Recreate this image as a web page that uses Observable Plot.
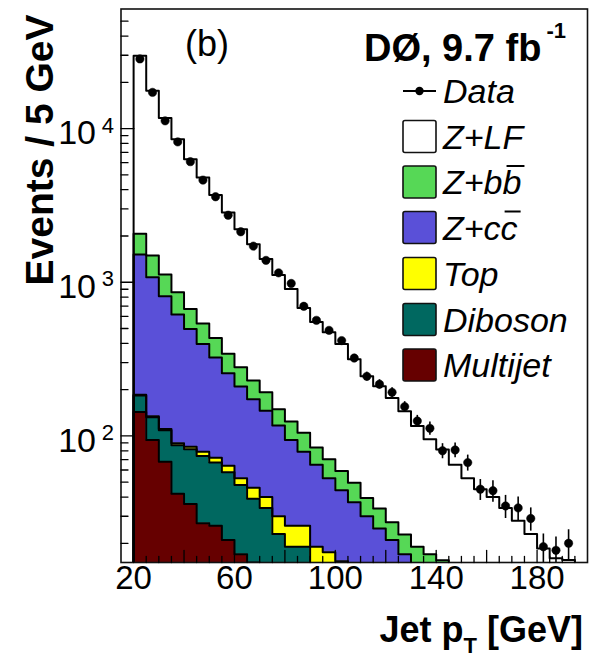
<!DOCTYPE html>
<html><head><meta charset="utf-8">
<script src="https://cdn.jsdelivr.net/npm/d3@7"></script>
<script src="https://cdn.jsdelivr.net/npm/@observablehq/plot@0.6"></script>
<style>
html,body{margin:0;padding:0;background:#fff;}
#chart{width:594px;height:661px;}
</style></head><body><div id="chart"></div>
<script>
// Jet pT bins (low edges, GeV), 5 GeV wide
const binLow = [20,25,30,35,40,45,50,55,60,65,70,75,80,85,90,95,100,105,110,115,120,125,130,135,140,145,150,155,160,165,170,175,180,185,190,195];

// Stacked backgrounds, events / 5 GeV (bottom to top)
const multijet = [143,94,68,42,36,27,26,21,17,15,11,9,7,5,4,3,2,2,1,1,1,0,0,0,0,0,0,0,0,0,0,0,0,0,0,0];
const diboson  = [40,38,41,45,46,47,41,37,31,24,23,14,12,14,8,7,6,5,5,4,3,3,3,2,2,1,1,1,1,0,0,0,0,0,0,0];
const topq     = [2,2,2,2.5,3,5,5,6,5,7,6,7,7,7,7,7.5,7.3,6,5,4,4,4,3,3,2,2,2,1,1,1,1,1,0,0,0,0];
const zcc      = [1332,944,700,526,411,317,252,192,157,127,106,87,68,53,46,35.5,29,24,19,16,13,10,8,7.5,7.5,6,4.5,4,2.5,2.5,2,1,1.5,1.2,1,0];
const zbb      = [548,415,311,245,174,142,110,87,70,56,46,32,30,26,19,17.5,14.7,12.5,9.5,8.7,6.4,5.8,5,4.5,4,3,2.5,2,1.5,1.5,1,1,1,0.8,0.6,0];
const zlf      = [27735,16107,10578,7669,5650,4262,3266,2497,1930,1537,1224,965,779,575,467,403,337,266,205,177,149,122,97,78,66,53,43,37,34,29,24,20,16,14,14,13];

// Data (bins 20-195 GeV) and statistical uncertainties
const dataVals = [28400,17200,11230,8190,6090,4620,3600,2730,2130,1718,1387,1151,982,697,565,486,417,321,244,217,192,155,125,112,80,81,67,45,44,35,34,29,19,18,20];
const dataErr  = [169,131,106,90,78,68,60,52,46,41,37,34,31,26,24,22,20,18,16,15,14,12,11,11,9,9,8,7,7,6,6,5,4,4,4.5];

// Axis ticks
const yMajorTicks = [100, 1000, 10000];
const yMinorTicks = [20,30,40,50,60,70,80,90,200,300,400,500,600,700,800,900,2000,3000,4000,5000,6000,7000,8000,9000,20000,30000,40000,50000];
const xMajorTicks = [20,40,60,80,100,120,140,160,180];
const xMinorTicks = [25,30,35,45,50,55,65,70,75,85,90,95,105,110,115,125,130,135,145,150,155,165,170,175,185,190,195];
const xTickLabels = [20,60,100,140,180];

const names  = ["Multijet","Diboson","Top","Z+cc","Z+bb","Z+LF"];
const colors = ["#660000","#006860","#ffff00","#5a50d8","#56d856","#ffffff"];
const seriesVals = [multijet, diboson, topq, zcc, zbb, zlf];

const FONT = "'Liberation Sans', Arial, Helvetica, sans-serif";
const FLOOR = 1;
const nb = binLow.length;
const binWidth = binLow[1] - binLow[0];
const lastEdge = binLow[nb - 1] + binWidth;

let running = new Array(nb).fill(0);
const layers = seriesVals.map((vals, k) => {
  const lower = running.slice();
  running = running.map((v, i) => v + vals[i]);
  return {name: names[k], color: colors[k], lower, upper: running.slice()};
});

function areaPts(L) {
  const pts = binLow.map((x, i) => ({x, y1: Math.max(L.lower[i], FLOOR), y2: Math.max(L.upper[i], FLOOR)}));
  pts.push({x: lastEdge, y1: pts[nb - 1].y1, y2: pts[nb - 1].y2});
  return pts;
}
function outlinePts(L) {
  const pts = [{x: binLow[0], y: FLOOR}];
  binLow.forEach((x, i) => pts.push({x, y: Math.max(L.upper[i], FLOOR)}));
  pts.push({x: lastEdge, y: Math.max(L.upper[nb - 1], FLOOR)});
  pts.push({x: lastEdge, y: FLOOR});
  return pts;
}
const dataRows = dataVals.map((v, i) => ({x: binLow[i] + binWidth / 2, y: v, lo: v - dataErr[i], hi: v + dataErr[i]}));

const tickShape = {draw(context, l) { context.moveTo(0, 0); context.lineTo(0, -l); }};

const marks = [];
layers.forEach(L => marks.push(Plot.areaY(areaPts(L), {x: "x", y1: "y1", y2: "y2", curve: "step-after", fill: L.color, clip: true})));
layers.slice().reverse().forEach(L => marks.push(Plot.line(outlinePts(L), {x: "x", y: "y", curve: "step-after", stroke: "black", strokeWidth: 2, clip: true})));
marks.push(Plot.ruleX(dataRows, {x: "x", y1: "lo", y2: "hi", stroke: "black", strokeWidth: 1.6, clip: true}));
marks.push(Plot.dot(dataRows, {x: "x", y: "y", r: 4.2, fill: "black", stroke: "black", strokeWidth: 0.5}));
marks.push(Plot.frame({stroke: "#111", strokeWidth: 1.6}));
marks.push(Plot.vector(yMajorTicks, {y: d => d, frameAnchor: "left", rotate: 90, length: 13, anchor: "start", shape: tickShape, stroke: "black", strokeWidth: 1.3}));
marks.push(Plot.vector(yMinorTicks, {y: d => d, frameAnchor: "left", rotate: 90, length: 7, anchor: "start", shape: tickShape, stroke: "black", strokeWidth: 1.3}));
marks.push(Plot.vector(xMajorTicks, {x: d => d, frameAnchor: "bottom", rotate: 0, length: 12, anchor: "start", shape: tickShape, stroke: "black", strokeWidth: 1.3}));
marks.push(Plot.vector(xMinorTicks, {x: d => d, frameAnchor: "bottom", rotate: 0, length: 6, anchor: "start", shape: tickShape, stroke: "black", strokeWidth: 1.3}));
marks.push(Plot.text(yMajorTicks, {y: d => d, frameAnchor: "left", text: () => "10", dx: -25, dy: 5, textAnchor: "end", fontSize: 34, fill: "black"}));
marks.push(Plot.text(yMajorTicks, {y: d => d, frameAnchor: "left", text: d => String(Math.round(Math.log10(d))), dx: -7, dy: -3, textAnchor: "end", fontSize: 22, fill: "black"}));
marks.push(Plot.text(xTickLabels, {x: d => d, frameAnchor: "bottom", text: d => String(d), dy: 26, fontSize: 33, fill: "black"}));

const svg = Plot.plot({
  width: 594, height: 661,
  marginLeft: 120.5, marginRight: 7, marginTop: 8.5, marginBottom: 99,
  x: {domain: [15, lastEdge], axis: null},
  y: {type: "log", domain: [15, 60000], axis: null},
  style: {fontFamily: FONT, background: "white", overflow: "visible"},
  marks
});
document.getElementById("chart").appendChild(svg);

const s = d3.select(svg);
const g = s.append("g").attr("font-family", FONT).attr("fill", "black").attr("text-anchor", "start");

// Axis titles
g.append("text").attr("transform", "translate(53,150) rotate(-90)").attr("text-anchor", "middle")
  .attr("font-size", 39).attr("font-weight", "bold").text("Events / 5 GeV");
const xl = g.append("text").attr("x", 583).attr("y", 641.5).attr("text-anchor", "end")
  .attr("font-size", 36).attr("font-weight", "bold");
xl.append("tspan").text("Jet p");
xl.append("tspan").attr("font-size", 22).attr("dy", 11).text("T");
xl.append("tspan").attr("dy", -11).text(" [GeV]");

// In-frame labels
g.append("text").attr("x", 185).attr("y", 56).attr("font-size", 36).text("(b)");
const dz = g.append("text").attr("x", 364).attr("y", 61).attr("font-size", 38).attr("font-weight", "bold");
dz.append("tspan").text("DØ, 9.7 fb");
dz.append("tspan").attr("font-size", 22).attr("dx", 5).attr("dy", -23).text("-1");

// Legend
const rowY = [91, 136.5, 182, 227.5, 273.5, 319.5, 365];
const boxX = 403, boxW = 33, boxH = 32, textX = 443;
g.append("line").attr("x1", boxX).attr("x2", boxX + boxW).attr("y1", rowY[0]).attr("y2", rowY[0]).attr("stroke", "black").attr("stroke-width", 2);
g.append("circle").attr("cx", boxX + boxW / 2).attr("cy", rowY[0]).attr("r", 4.2).attr("fill", "black");
g.append("text").attr("x", textX).attr("y", rowY[0] + 12).attr("font-size", 34).attr("font-style", "italic").text("Data");
const legOrder = [5, 4, 3, 2, 1, 0];
legOrder.forEach((k, j) => {
  const cy = rowY[j + 1];
  const base = cy + 12;
  g.append("rect").attr("x", boxX).attr("y", cy - boxH / 2).attr("width", boxW).attr("height", boxH)
    .attr("rx", 2).attr("fill", colors[k]).attr("stroke", "#111").attr("stroke-width", 1.6);
  const t = g.append("text").attr("x", textX).attr("y", base).attr("font-size", 34).attr("font-style", "italic").text(names[k]);
  if (names[k] === "Z+bb" || names[k] === "Z+cc") {
    // anti-quark bar over the last letter
    const node = t.node();
    const x0 = node.getStartPositionOfChar(3).x;
    const w = node.getSubStringLength(3, 1);
    g.append("line").attr("x1", x0 + 4).attr("x2", x0 + w + 3).attr("y1", base - 28).attr("y2", base - 28)
      .attr("stroke", "black").attr("stroke-width", 2);
  }
});
</script></body></html>
